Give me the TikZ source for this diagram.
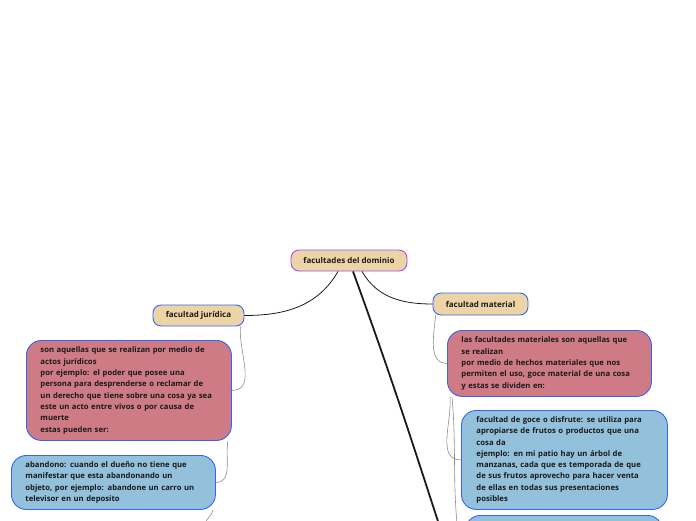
\documentclass[tikz,border=0pt]{standalone}
\usepackage{fontspec}
\setmainfont{Open Sans}
\usetikzlibrary{positioning}
\definecolor{TopicTan}{HTML}{EDD4A6}
\definecolor{RootPurple}{HTML}{A64DF0}
\definecolor{EdgeBlue}{HTML}{3366F2}
\definecolor{NotePink}{HTML}{CF7B86}
\definecolor{NoteBlue}{HTML}{93C0DA}
\definecolor{LinkGray}{HTML}{8C8C8C}
\definecolor{InkBlack}{HTML}{1A1A1A}

\tikzset{
  topic/.style={draw=EdgeBlue, fill=TopicTan, line width=0.9pt, rounded corners=8pt,
    minimum height=21pt, inner sep=0pt, text=InkBlack,
    font=\fontsize{8}{9}\selectfont\bfseries},
  note/.style={draw=EdgeBlue, line width=0.9pt, rounded corners=15pt, anchor=north west,
    align=left, inner xsep=14pt, inner ysep=0pt, text=InkBlack,
    font=\fontsize{7.7}{11.3}\selectfont\bfseries},
  branch/.style={InkBlack, line width=0.8pt},
  twig/.style={LinkGray, line width=0.6pt}
}

\begin{document}
\begin{tikzpicture}[x=1pt, y=-1pt]
  \useasboundingbox (0,0) rectangle (696,520);
  % Central topic
  \node[topic, draw=RootPurple, minimum width=116pt] (dom) at (349,260.5) {facultades del dominio};
  % Main branches
  \node[topic, minimum width=91pt] (jur) at (198.5,315.5) {facultad jurídica};
  \node[topic, minimum width=95pt, minimum height=22pt] (mat) at (480.5,304) {facultad material};
  % Notes, left side
  \node[note, fill=NotePink, text width=177pt, minimum height=100pt] (jurNote) at (26,340)
    {son aquellas que se realizan por medio de\\
     actos jurídicos\\
     por ejemplo: el poder que posee una\\
     persona para desprenderse o reclamar de\\
     un derecho que tiene sobre una cosa ya sea\\
     este un acto entre vivos o por causa de\\
     muerte\\
     estas pueden ser:};
  \node[note, fill=NoteBlue, text width=176pt, minimum height=54pt] (abandono) at (11,455)
    {abandono: cuando el dueño no tiene que\\
     manifestar que esta abandonando un\\
     objeto, por ejemplo: abandone un carro un\\
     televisor en un deposito};
  % Notes, right side
  \node[note, fill=NotePink, text width=176pt, minimum height=66pt] (matNote) at (447,330)
    {las facultades materiales son aquellas que\\
     se realizan\\
     por medio de hechos materiales que nos\\
     permiten el uso, goce material de una cosa\\
     y estas se dividen en:};
  \node[note, fill=NoteBlue, text width=176pt, minimum height=99pt, inner xsep=15pt] (goce) at (461,410)
    {facultad de goce o disfrute: se utiliza para\\
     apropiarse de frutos o productos que una\\
     cosa da\\
     ejemplo: en mi patio hay un árbol de\\
     manzanas, cada que es temporada de que\\
     de sus frutos aprovecho para hacer venta\\
     de ellas en todas sus presentaciones\\
     posibles};
  \node[note, fill=NoteBlue, text width=169pt, minimum height=60pt] (nextGoce) at (465,515) {};
  % Free ends below the page
  \coordinate (domNext) at (446,546);
  \coordinate (jurNext) at (205,524);
  \coordinate (matNext) at (457,524);
  % Connectors
  \draw[branch] ([xshift=-11pt]dom.south) to[out=-120, in=0] (jur.east);
  \draw[branch] ([xshift=13pt]dom.south) to[out=-60, in=180] (mat.west);
  \draw[branch, line width=1.8pt] ([xshift=4pt]dom.south) to[out=-70, in=108] (domNext);
  \draw[twig] ([xshift=-4pt]jur.south east) to[out=-95, in=0] (jurNote.east);
  \draw[twig] ([xshift=-4pt]jurNote.south east) to[out=-100, in=0] (abandono.east);
  \draw[twig] ([xshift=-3pt]abandono.south east) to[out=-100, in=75] (jurNext);
  \draw[twig] ([xshift=3pt]mat.south west) to[out=-95, in=180] (matNote.west);
  \draw[twig] ([xshift=3pt]matNote.south west) to[out=-85, in=180] (goce.west);
  \draw[twig] ([xshift=5pt]matNote.south west) to[out=-85, in=95] (matNext);
\end{tikzpicture}
\end{document}
